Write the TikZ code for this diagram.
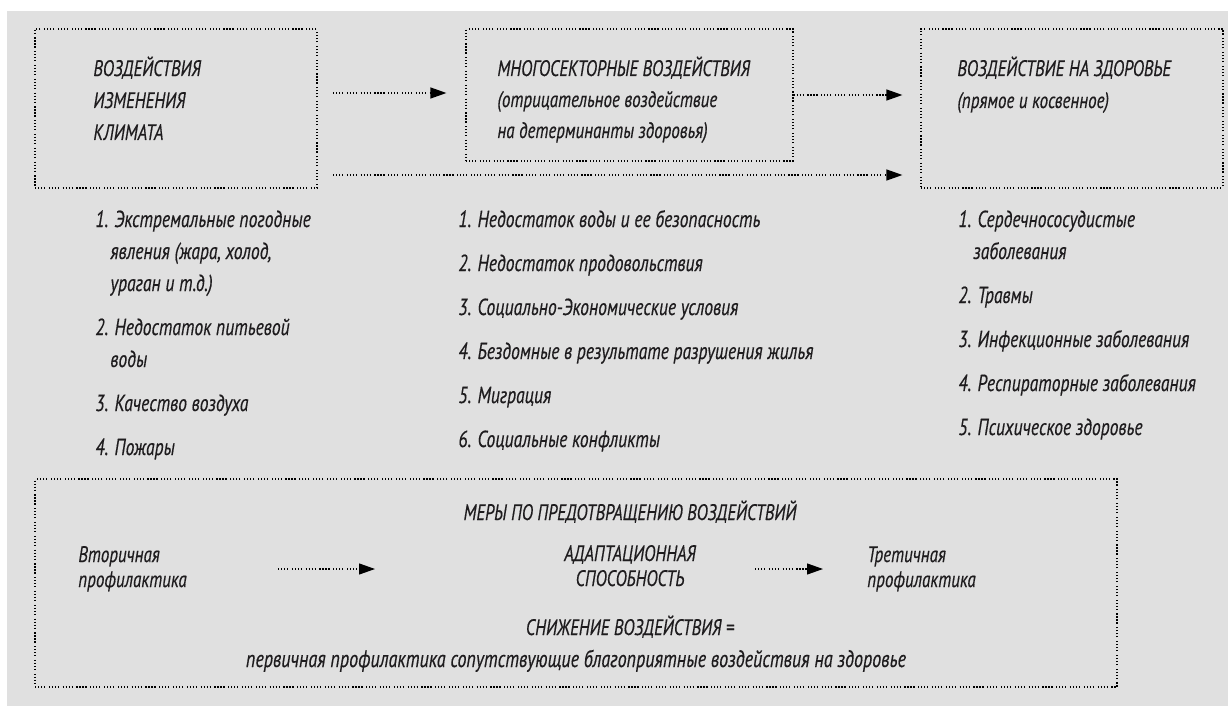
\documentclass[tikz,border=0pt]{standalone}
\usepackage{fontspec}
\setmainfont[FakeStretch=0.76,ItalicFeatures={FakeBold=0.35}]{PT Sans}
\usetikzlibrary{arrows.meta}

\definecolor{panel}{RGB}{224,224,224}
\definecolor{ink}{RGB}{30,28,30}

\begin{document}
\begin{tikzpicture}[x=0.5pt, y=-0.5pt,
    frame/.style={draw=black, line width=0.6pt, inner sep=0pt,
                  dash pattern=on 0.6pt off 0.9pt on 0.6pt off 0.9pt on 0.6pt off 0.9pt on 0.6pt off 1.8pt},
    head/.style={anchor=base west, align=left, inner sep=0pt, text=ink,
                 font=\fontsize{11.2}{16}\selectfont\itshape},
    items/.style={anchor=base west, align=left, inner sep=0pt, text=ink,
                  font=\fontsize{11.6}{16}\selectfont\itshape},
    small/.style={inner sep=0pt, text=ink,
                  font=\fontsize{11.2}{12.5}\selectfont\itshape},
    flow/.style={-{Triangle[length=8pt,width=5.5pt]}, line width=0.6pt,
                 dash pattern=on 0.6pt off 0.9pt on 0.6pt off 0.9pt on 0.6pt off 0.9pt on 0.6pt off 1.8pt}]

  % background
  \fill[white] (0,0) rectangle (1228,706);
  \fill[panel] (7,11) rectangle (1228,706);
  \useasboundingbox (0,0) rectangle (1228,706);

  % the three upper frames
  \node[frame, minimum width=141pt, minimum height=79.5pt] (Clim)   at (176,108.5)  {};
  \node[frame, minimum width=163.5pt, minimum height=66pt] (Multi)  at (629.5,95)   {};
  \node[frame, minimum width=151pt, minimum height=79.5pt] (Health) at (1072,108.5) {};

  % (base = baseline of the last line)
  \node[head] (ClimT)   at (93,140)  {ВОЗДЕЙСТВИЯ\\ИЗМЕНЕНИЯ\\КЛИМАТА};
  \node[head] (MultiT)  at (497,138) {МНОГОСЕКТОРНЫЕ ВОЗДЕЙСТВИЯ\\[-0.5pt](отрицательное воздействие\\[-0.5pt]на детерминанты здоровья)};
  \node[head] (HealthT) at (957,108) {ВОЗДЕЙСТВИЕ НА ЗДОРОВЬЕ\\(прямое и косвенное)};

  % arrows between frames
  \coordinate (up1) at (333,93);
  \coordinate (low) at (333,175);
  \draw[flow, shorten >=9.5pt] (up1) -- (Multi.west |- up1);
  \draw[flow, shorten >=9pt] (Multi.east) -- (Health.west |- Multi.east);
  \draw[flow, shorten >=9pt] (low) -- (Health.west |- low);

  % lists
  \node[items] (ClimL) at (95,455) {1. Экстремальные погодные\\
    \hspace*{7.5pt}явления (жара, холод,\\
    \hspace*{7.5pt}ураган и т.д.)\\[6pt]
    2. Недостаток питьевой\\
    \hspace*{7.5pt}воды\\[6pt]
    3. Качество воздуха\\[6pt]
    4. Пожары};
  \node[items] (MultiL) at (458,447) {1. Недостаток воды и ее безопасность\\[6pt]
    2. Недостаток продовольствия\\[6pt]
    3. Социально-Экономические условия\\[6pt]
    4. Бездомные в результате разрушения жилья\\[6pt]
    5. Миграция\\[6pt]
    6. Социальные конфликты};
  \node[items] (HealthL) at (958,435) {1. Сердечнососудистые\\
    \hspace*{7.5pt}заболевания\\[6pt]
    2. Травмы\\[6pt]
    3. Инфекционные заболевания\\[6pt]
    4. Респираторные заболевания\\[6pt]
    5. Психическое здоровье};

  % prevention frame
  \node[frame, minimum width=541pt, minimum height=104pt] (Prev) at (576,583) {};
  \node[small, anchor=base] (PrevT) at (630,520) {МЕРЫ ПО ПРЕДОТВРАЩЕНИЮ ВОЗДЕЙСТВИЙ};
  \node[small, anchor=base west, align=left] (Sec) at (78,587) {Вторичная\\профилактика};
  \node[small, anchor=base, align=center] (Adapt) at (630,586) {АДАПТАЦИОННАЯ\\СПОСОБНОСТЬ};
  \node[small, anchor=base west, align=left] (Ter) at (867,587) {Третичная\\профилактика};
  \node[small, anchor=base] (Mitig) at (630,635) {СНИЖЕНИЕ ВОЗДЕЙСТВИЯ =};
  \node[small, anchor=base, font=\fontsize{11.9}{12.5}\selectfont\itshape] (Prim) at (576,667) {первичная профилактика сопутствующие благоприятные воздействия на здоровье};

  \coordinate (s1) at (278,569);
  \coordinate (e1) at (375,569);
  \coordinate (s2) at (755,569);
  \coordinate (e2) at (823,569);
  \draw[flow] (s1) -- (e1);
  \draw[flow] (s2) -- (e2);
\end{tikzpicture}
\end{document}
